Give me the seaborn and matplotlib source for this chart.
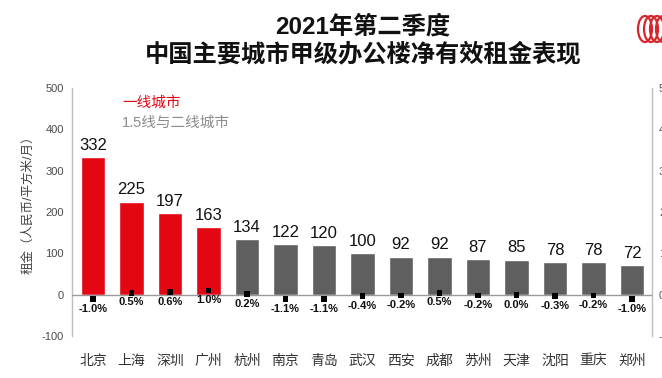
import numpy as np
import pandas as pd
import matplotlib
matplotlib.use('Agg')
import matplotlib.pyplot as plt
from matplotlib.patches import Ellipse
import seaborn as sns

cities = ['北京', '上海', '深圳', '广州', '杭州', '南京', '青岛', '武汉',
          '西安', '成都', '苏州', '天津', '沈阳', '重庆', '郑州']
rents = [332, 225, 197, 163, 134, 122, 120, 100, 92, 92, 87, 85, 78, 78, 72]
changes = [-1.0, 0.5, 0.6, 1.0, 0.2, -1.1, -1.1, -0.4, -0.2, 0.5, -0.2, 0.0, -0.3, -0.2, -1.0]
tier = ['一线城市'] * 4 + ['1.5线与二线城市'] * 11
left_ticks = [-100, 0, 100, 200, 300, 400, 500]
right_ticks = [-10, 0, 10, 20, 30, 40, 50]

RED = '#e30613'
GREY = '#5f5f5f'

sns.set_style('white')
plt.rcParams['font.family'] = ['Liberation Sans', 'Noto Sans CJK SC', 'DejaVu Sans']
plt.rcParams['axes.unicode_minus'] = False

df = pd.DataFrame({'city': cities, 'rent': rents, 'chg': changes, 'tier': tier})

W, H = 662, 378
fig = plt.figure(figsize=(W / 100, H / 100), dpi=100)
ax = fig.add_axes([72 / W, 1 - 336 / H, (652 - 72) / W, (336 - 88) / H])

sns.barplot(data=df, x='city', y='rent', hue='tier',
            palette={'一线城市': RED, '1.5线与二线城市': GREY},
            width=0.63, dodge=False, legend=False, ax=ax, saturation=1)
ax.set_xlim(-0.545, 14.52)
ax.set_ylim(-100, 500)
ax.set_yticks(left_ticks)
ax.tick_params(axis='y', length=0, pad=6, labelsize=8, labelcolor='#4a4a4a')
ax.tick_params(axis='x', length=0, pad=13, labelsize=10, labelcolor='#333333')
ax.set_xlabel('')
ax.set_ylabel('租金（人民币/平方米/月）', fontsize=9, color='#404040')
ax.yaxis.set_label_coords(-0.065, 0.54)

for s in ['top', 'bottom']:
    ax.spines[s].set_visible(False)
for s in ['left', 'right']:
    ax.spines[s].set_color('#bdbdbd')
    ax.spines[s].set_linewidth(1)
ax.axhline(0, color='#9a9a9a', lw=1, zorder=3)

for i, v in enumerate(rents):
    ax.annotate(f'{v}', (i, v), xytext=(0, 3), textcoords='offset points',
                ha='center', va='bottom', fontsize=12, color='#111111')

ax2 = ax.twinx()
ax2.set_ylim(-10, 50)
ax2.set_yticks(right_ticks)
ax2.set_yticklabels([f'{t}%' for t in right_ticks])
ax2.tick_params(axis='y', length=0, pad=5, labelsize=8, labelcolor='#595959')
for s in ['top', 'bottom', 'left', 'right']:
    ax2.spines[s].set_visible(False)
sns.scatterplot(x=np.arange(len(cities)), y=changes, marker='s', s=18,
                color='black', edgecolor='none', ax=ax2, zorder=5)
for i, c in enumerate(changes):
    ax2.annotate(f'{c:.1f}%', (i, c), xytext=(0, -3.5), textcoords='offset points',
                 ha='center', va='top', fontsize=8, fontweight='bold', color='#111111')

fig.text(122 / W, 1 - 103 / H, '一线城市', color=RED, fontsize=10.5, va='center')
fig.text(122 / W, 1 - 123 / H, '1.5线与二线城市', color='#8c8c8c', fontsize=10.5, va='center')

fig.text(363 / W, 1 - 27 / H, '2021年第二季度', fontsize=17.5, fontweight='bold',
         ha='center', va='center', color='#111111')
fig.text(363 / W, 1 - 55 / H, '中国主要城市甲级办公楼净有效租金表现', fontsize=17.5,
         fontweight='bold', ha='center', va='center', color='#111111')

# logo
for cx in [645, 651, 657, 663]:
    fig.patches.append(Ellipse((cx / W, 1 - 29 / H), 14 / W, 26 / H,
                               transform=fig.transFigure, fill=False,
                               edgecolor='#d7262d', lw=1.6))

fig.savefig('out.png', dpi=100)
